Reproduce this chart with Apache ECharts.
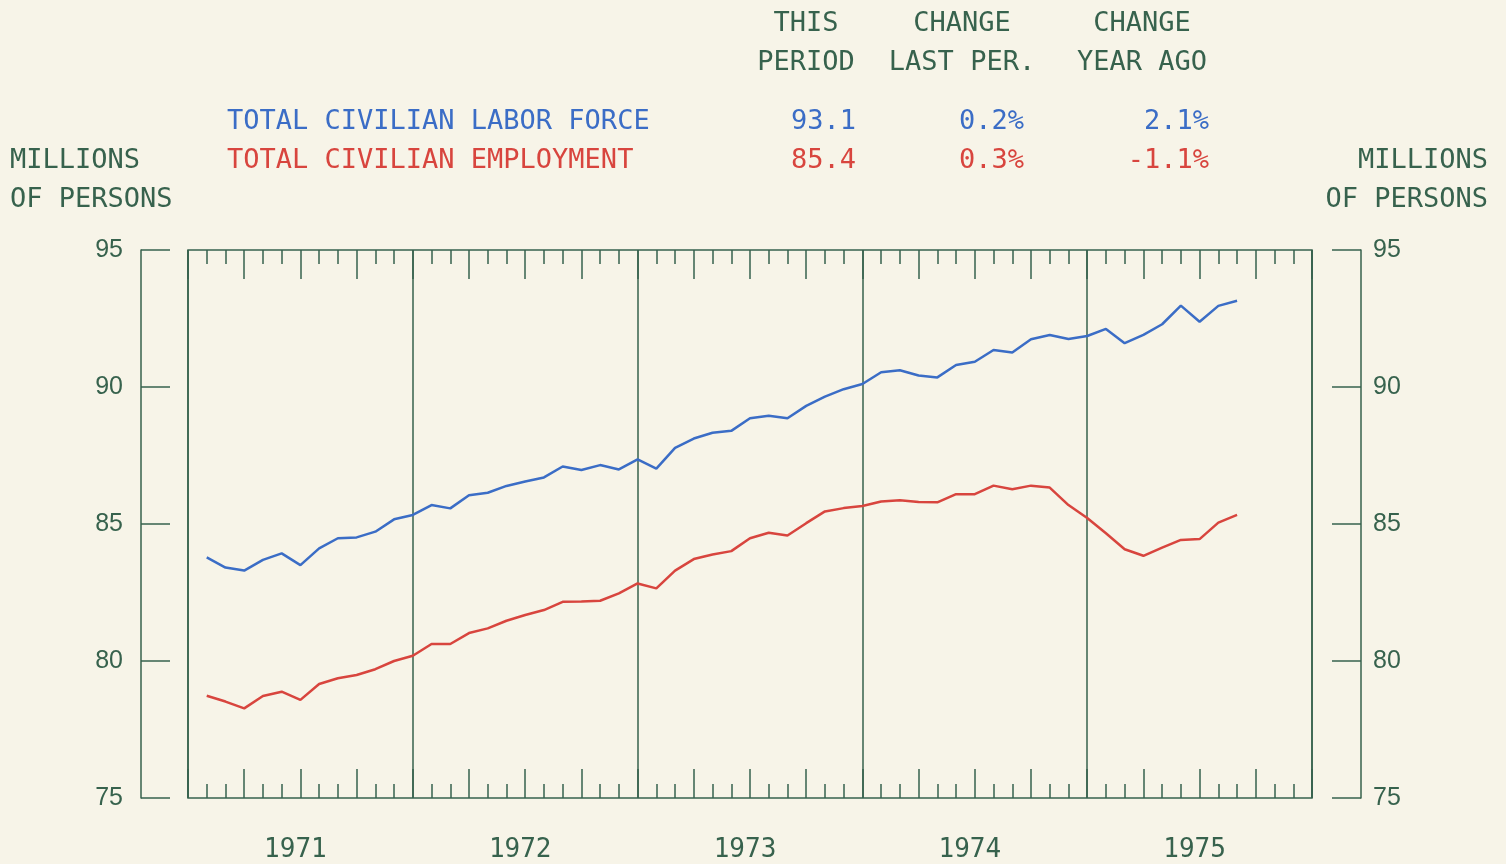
<!DOCTYPE html>
<html>
<head>
<meta charset="utf-8">
<script src="https://cdn.jsdelivr.net/npm/echarts@6/dist/echarts.min.js"></script>
<style>
  html, body { margin: 0; padding: 0; background: #f7f4e8; }
  #chart { width: 1506px; height: 864px; }
</style>
</head>
<body>
<div id="chart"></div>
<script>
// monthly values, Jan 1971 .. Aug 1975 (millions of persons)
var laborForce = [
  83.78, 83.41, 83.30, 83.69, 83.93, 83.50, 84.11, 84.48, 84.51, 84.72, 85.17, 85.33,
  85.69, 85.57, 86.05, 86.14, 86.39, 86.55, 86.70, 87.10, 86.97, 87.15, 86.99, 87.36,
  87.02, 87.78, 88.12, 88.33, 88.40, 88.86, 88.95, 88.86, 89.31, 89.65, 89.92, 90.11,
  90.54, 90.61, 90.42, 90.35, 90.80, 90.92, 91.35, 91.26, 91.74, 91.90, 91.75, 91.86,
  92.12, 91.60, 91.90, 92.29, 92.97, 92.38, 92.96, 93.15
]
var employment = [
  78.73, 78.52, 78.27, 78.72, 78.88, 78.58, 79.16, 79.37, 79.49, 79.70, 80.00, 80.19,
  80.62, 80.62, 81.02, 81.19, 81.47, 81.68, 81.86, 82.16, 82.17, 82.20, 82.47, 82.83,
  82.65, 83.30, 83.72, 83.89, 84.01, 84.48, 84.68, 84.58, 85.03, 85.46, 85.58, 85.66,
  85.82, 85.87, 85.80, 85.79, 86.09, 86.09, 86.40, 86.27, 86.40, 86.33, 85.69, 85.22,
  84.66, 84.08, 83.84, 84.14, 84.42, 84.45, 85.05, 85.33
]
var years = ['1971', '1972', '1973', '1974', '1975']
var yTicks = [75, 80, 85, 90, 95]

// summary table
var tableHead1 = ['THIS', 'CHANGE', 'CHANGE']
var tableHead2 = ['PERIOD', 'LAST PER.', 'YEAR AGO']
var seriesNames = ['TOTAL CIVILIAN LABOR FORCE', 'TOTAL CIVILIAN EMPLOYMENT']
var thisPeriod = ['93.1', '85.4']
var changeLast = ['0.2%', '0.3%']
var changeYear = ['2.1%', '-1.1%']

var green = '#37624d'
var blue = '#3b6dc6'
var red = '#d8453e'
var mono = '"DejaVu Sans Mono", monospace'

function toPoints (arr) {
  // x = month number counted from the start of 1971 (point at month end)
  var out = []
  for (var i = 0; i < arr.length; i++) {
    out.push([i + 1, arr[i]])
  }
  return out
}

function txt (s, x, y, color, align) {
  return {
    type: 'text',
    x: x,
    y: y,
    style: {
      text: s,
      fill: color,
      font: '27px ' + mono,
      align: align || 'left',
      verticalAlign: 'middle'
    }
  }
}

var graphics = []
var headCenters = [806, 962, 1142]
for (var i = 0; i < 3; i++) {
  graphics.push(txt(tableHead1[i], headCenters[i], 24, green, 'center'))
  graphics.push(txt(tableHead2[i], headCenters[i], 63, green, 'center'))
}
var rowY = [122, 161]
var rowColor = [blue, red]
for (var r = 0; r < 2; r++) {
  graphics.push(txt(seriesNames[r], 227, rowY[r], rowColor[r]))
  graphics.push(txt(thisPeriod[r], 856, rowY[r], rowColor[r], 'right'))
  graphics.push(txt(changeLast[r], 1024, rowY[r], rowColor[r], 'right'))
  graphics.push(txt(changeYear[r], 1209, rowY[r], rowColor[r], 'right'))
}
graphics.push(txt('MILLIONS', 10, 161, green))
graphics.push(txt('OF PERSONS', 10, 200, green))
graphics.push(txt('MILLIONS', 1488, 161, green, 'right'))
graphics.push(txt('OF PERSONS', 1488, 200, green, 'right'))

var tickAxisBase = {
  type: 'value',
  min: 0,
  max: 60,
  interval: 3,
  axisLine: { show: false, onZero: false },
  axisTick: { show: true, inside: true, length: 29, lineStyle: { color: green, width: 1.5 } },
  minorTick: { show: true, splitNumber: 3, length: 14, lineStyle: { color: green, width: 1.5 } },
  axisLabel: { show: false },
  splitLine: { show: false }
}

var yAxisBase = {
  type: 'value',
  min: yTicks[0],
  max: yTicks[yTicks.length - 1],
  interval: 5,
  axisLine: { show: true, onZero: false, lineStyle: { color: green, width: 1.5 } },
  axisTick: { show: true, inside: true, length: 29, lineStyle: { color: green, width: 1.5 } },
  splitLine: { show: false },
  axisLabel: { color: green, fontSize: 25, fontFamily: '"Liberation Sans", Arial, sans-serif' }
}

var myChart = echarts.init(document.getElementById('chart'))
myChart.setOption({
  backgroundColor: '#f7f4e8',
  animation: false,
  graphic: graphics,
  grid: {
    left: 188,
    right: 194,
    top: 250,
    bottom: 66,
    show: true,
    borderColor: green,
    borderWidth: 1.5,
    backgroundColor: 'transparent'
  },
  xAxis: [
    Object.assign({}, tickAxisBase, { position: 'bottom' }),
    Object.assign({}, tickAxisBase, { position: 'top' }),
    {
      // year dividers
      type: 'value',
      min: 0,
      max: 60,
      interval: 12,
      position: 'bottom',
      axisLine: { show: false, onZero: false },
      axisTick: { show: false },
      axisLabel: { show: false },
      splitLine: { show: true, lineStyle: { color: green, width: 1.5 } }
    },
    {
      // year labels, centred in each year
      type: 'value',
      min: 0,
      max: 60,
      interval: 6,
      position: 'bottom',
      axisLine: { show: false, onZero: false },
      axisTick: { show: false },
      splitLine: { show: false },
      axisLabel: {
        color: green,
        fontSize: 26,
        fontFamily: mono,
        margin: 39,
        padding: [0, 10, 0, 0],
        formatter: function (v) {
          if (v % 12 === 6) return years[(v - 6) / 12]
          return ''
        }
      }
    }
  ],
  yAxis: [
    Object.assign({}, yAxisBase, { position: 'left', offset: 47, axisLabel: Object.assign({}, yAxisBase.axisLabel, { margin: 18 }) }),
    Object.assign({}, yAxisBase, { position: 'right', offset: 49, axisLabel: Object.assign({}, yAxisBase.axisLabel, { margin: 12 }) })
  ],
  series: [
    {
      name: seriesNames[0],
      type: 'line',
      xAxisIndex: 0,
      yAxisIndex: 0,
      data: toPoints(laborForce),
      showSymbol: false,
      lineStyle: { color: blue, width: 2.5 }
    },
    {
      name: seriesNames[1],
      type: 'line',
      xAxisIndex: 0,
      yAxisIndex: 0,
      data: toPoints(employment),
      showSymbol: false,
      lineStyle: { color: red, width: 2.5 }
    }
  ]
})
</script>
</body>
</html>
